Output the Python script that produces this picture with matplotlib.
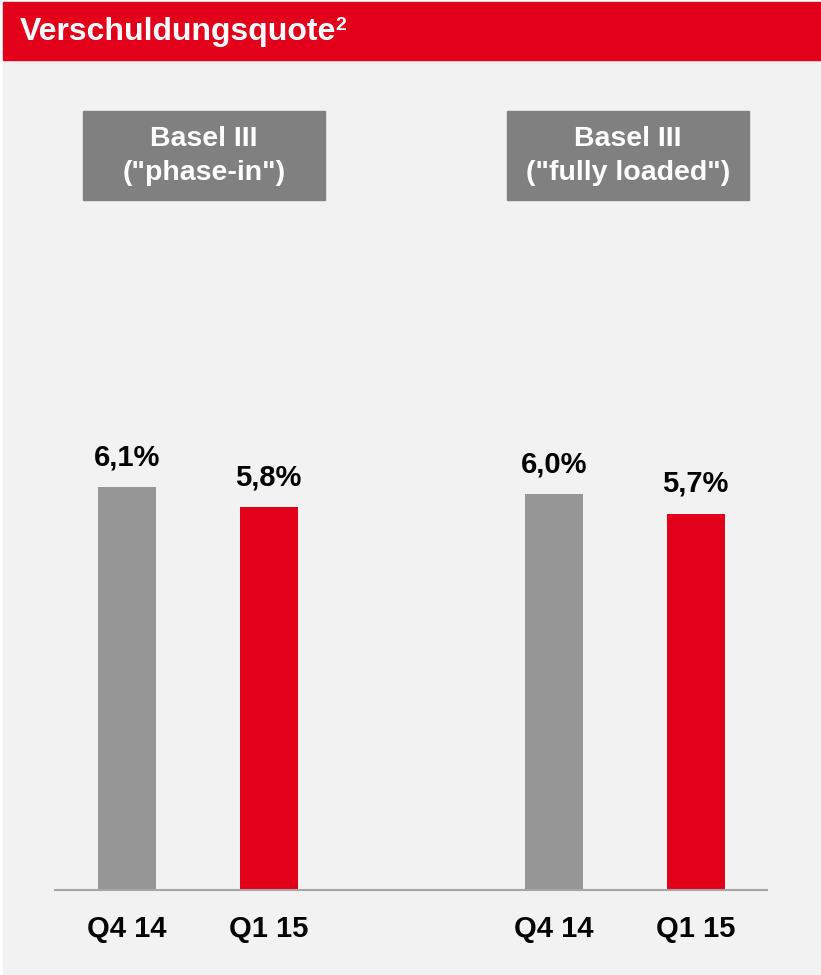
import matplotlib
matplotlib.use("Agg")
import matplotlib.pyplot as plt
from matplotlib.patches import Rectangle

plt.rcParams['font.family'] = ['Liberation Sans', 'DejaVu Sans']

# --- Data ---
title = "Verschuldungsquote"
groups = ['Basel III\n("phase-in")', 'Basel III\n("fully loaded")']
periods = ["Q4 14", "Q1 15"]
values = [[6.1, 5.8], [6.0, 5.7]]
labels = [["6,1%", "5,8%"], ["6,0%", "5,7%"]]

RED = "#E2001A"
GREY_BAR = "#969696"
GREY_BOX = "#808080"
BG = "#F2F2F2"

W, H = 821, 975
fig = plt.figure(figsize=(W / 100, H / 100), dpi=100)
fig.patch.set_facecolor("white")


def fx(px):
    return px / W


def fy(py):
    return 1 - py / H


# panel background and red header
fig.patches.append(Rectangle((fx(3), fy(974)), fx(818), 972 / H,
                             transform=fig.transFigure, color=BG, zorder=-2))
fig.patches.append(Rectangle((fx(3), fy(60)), fx(818), 58 / H,
                             transform=fig.transFigure, color=RED, zorder=-1))
t = fig.text(fx(20), fy(32), title, color="white", fontsize=23, fontweight="bold",
             va="center", ha="left")
fig.canvas.draw()
bb = t.get_window_extent()
fig.text(bb.x1 / W - 0.001, fy(26), "2", color="white", fontsize=14,
         fontweight="bold", va="center", ha="left")

# --- Axes ---
ax = fig.add_axes([fx(55), fy(890), fx(712), 670 / H])
ax.set_zorder(5)
ax.set_facecolor("none")
pair_gap = 141.5
bar_w = 58 / pair_gap
xlim_left = -72 / pair_gap
ax.set_xlim(xlim_left, xlim_left + 712 / pair_gap)
ax.set_ylim(0, 670 / 66.0)

group_offset = 427 / pair_gap
box_left = [83, 507]
tick_pos, tick_lab = [], []
for g, (vals, labs) in enumerate(zip(values, labels)):
    for i, (v, lab) in enumerate(zip(vals, labs)):
        x = g * group_offset + i
        ax.bar(x, v, width=bar_w, color=GREY_BAR if i == 0 else RED, zorder=2)
        ax.text(x, v + 0.24, lab, ha="center", va="bottom", fontsize=21,
                fontweight="bold", color="black")
        tick_pos.append(x)
        tick_lab.append(periods[i])

    # group header box
    bw, bh = 242, 89
    fig.patches.append(Rectangle((fx(box_left[g]), fy(200)), bw / W, bh / H,
                                 transform=fig.transFigure, color=GREY_BOX, zorder=0))
    fig.text(fx(box_left[g] + bw / 2), fy(156), groups[g], color="white", fontsize=20.5,
             fontweight="bold", ha="center", va="center", linespacing=1.45)

ax.set_xticks(tick_pos)
ax.set_xticklabels(tick_lab, fontsize=21, fontweight="bold")
ax.tick_params(axis="x", length=0, pad=18)
ax.set_yticks([])
for s in ["top", "left", "right"]:
    ax.spines[s].set_visible(False)
ax.spines["bottom"].set_color("#A6A6A6")
ax.spines["bottom"].set_linewidth(1.5)

fig.savefig("out.png", dpi=100, facecolor=fig.get_facecolor())
